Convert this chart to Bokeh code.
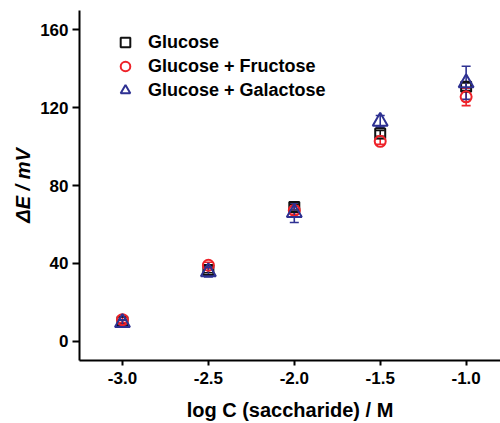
from bokeh.plotting import figure
from bokeh.models import ColumnDataSource, Whisker, FixedTicker, Legend, LegendItem, TeeHead
from bokeh.embed import file_html
from bokeh.resources import INLINE

# ---- data ----
log_c = [-3.0, -2.5, -2.0, -1.5, -1.0]
glucose = [9.9, 36.6, 68.9, 106.8, 130.8]
glucose_err = [1.0, 1.5, 1.5, 1.5, 2.0]
fructose = [11.0, 39.0, 67.2, 102.7, 125.6]
fructose_err = [1.5, 1.5, 2.0, 1.5, 4.5]
galactose = [9.4, 35.5, 66.0, 113.0, 132.8]
galactose_err = [1.5, 2.5, 5.0, 3.0, 8.5]
x_ticks = [-3.0, -2.5, -2.0, -1.5, -1.0]
x_tick_labels = ["-3.0", "-2.5", "-2.0", "-1.5", "-1.0"]
y_ticks = [0, 40, 80, 120, 160]
series_names = ["Glucose", "Glucose + Fructose", "Glucose + Galactose"]

FONT = "Liberation Sans"
BLACK = "#111111"
RED = "#ee2229"
BLUE = "#2e3192"

p = figure(width=500, height=423, output_backend="svg", toolbar_location=None,
           x_range=(-3.25, -0.8), y_range=(-10, 170),
           min_border_left=79, min_border_top=10, min_border_right=0, min_border_bottom=63)
p.outline_line_color = None
p.grid.visible = False
p.background_fill_color = "white"

def add_series(vals, errs, color, marker, size):
    src = ColumnDataSource(dict(x=log_c, y=vals,
                                lo=[v - e for v, e in zip(vals, errs)],
                                hi=[v + e for v, e in zip(vals, errs)]))
    w = Whisker(source=src, base="x", lower="lo", upper="hi",
                line_color=color, line_width=1.6,
                upper_head=TeeHead(size=9, line_color=color, line_width=1.6),
                lower_head=TeeHead(size=9, line_color=color, line_width=1.6))
    p.add_layout(w)
    r = p.scatter("x", "y", source=src, marker=marker, size=size,
                  fill_color=None, line_color=color, line_width=2)
    return r

r1 = add_series(glucose, glucose_err, BLACK, "square", 10)
r2 = add_series(fructose, fructose_err, RED, "circle", 11)
r3 = add_series(galactose, galactose_err, BLUE, "triangle", 15)

legend = Legend(items=[LegendItem(label=series_names[0], renderers=[r1]),
                       LegendItem(label=series_names[1], renderers=[r2]),
                       LegendItem(label=series_names[2], renderers=[r3])],
                location=(34, 258), padding=0, margin=0, spacing=0,
                glyph_width=24, glyph_height=24, label_height=24, label_standoff=11,
                border_line_color=None, background_fill_alpha=0,
                label_text_font=FONT, label_text_font_style="bold",
                label_text_font_size="18px", label_text_color="black")
p.add_layout(legend, "center")

for ax in (p.xaxis[0], p.yaxis[0]):
    ax.axis_line_width = 2
    ax.axis_line_color = "black"
    ax.major_tick_line_width = 2
    ax.major_tick_line_color = "black"
    ax.major_tick_in = 0
    ax.minor_tick_line_color = None
    ax.major_label_text_font = FONT
    ax.major_label_text_font_style = "bold"
    ax.major_label_text_font_size = "17px"
    ax.major_label_text_color = "black"
    ax.axis_label_text_font = FONT
    ax.axis_label_text_font_size = "20px"
    ax.axis_label_text_color = "black"

p.xaxis.ticker = FixedTicker(ticks=x_ticks)
p.xaxis.major_label_overrides = {t: s for t, s in zip(x_ticks, x_tick_labels)}
p.xaxis.major_tick_out = 5
p.xaxis.major_label_standoff = 6
p.xaxis.axis_label = "log C (saccharide) / M"
p.xaxis.axis_label_text_font_style = "bold"
p.xaxis.axis_label_standoff = 12

p.yaxis.ticker = FixedTicker(ticks=y_ticks)
p.yaxis.major_tick_out = 7
p.yaxis.major_label_standoff = 4
p.yaxis.axis_label = "ΔE / mV"
p.yaxis.axis_label_text_font_style = "bold italic"
p.yaxis.axis_label_standoff = 3

open("out.html", "w").write(file_html(p, INLINE))
